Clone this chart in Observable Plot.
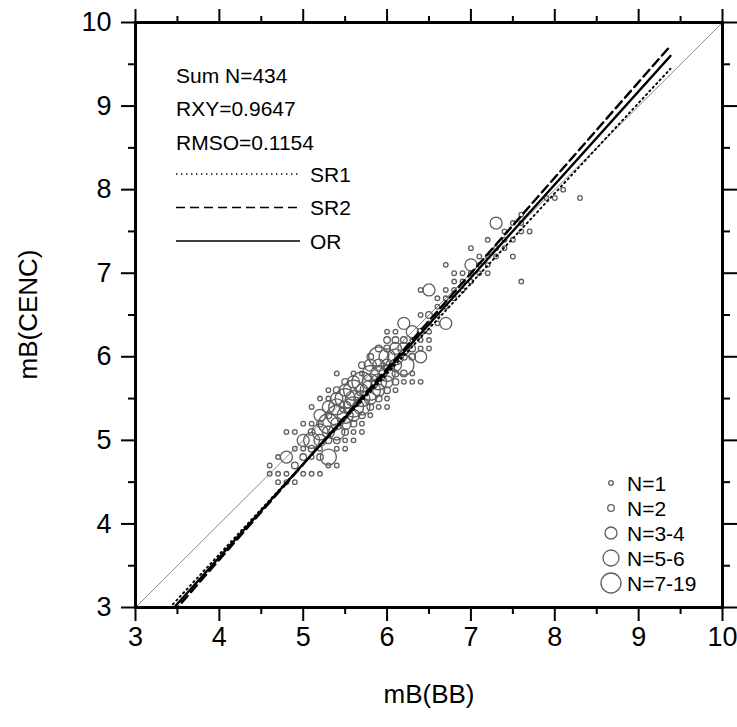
<!DOCTYPE html>
<html>
<head>
<meta charset="utf-8">
<script src="https://cdn.jsdelivr.net/npm/d3@7"></script>
<script src="https://cdn.jsdelivr.net/npm/@observablehq/plot@0.6"></script>
<style>
  html, body { margin: 0; padding: 0; background: #fff; }
</style>
</head>
<body>
<div id="chart"></div>
<script>
// ---------------- data ----------------
// magnitude pairs on a 0.1 grid: mB(BB), mB(CENC), number of events at that pair
const mbBB = [
  4.6,4.6,
  4.7,4.7,4.7,
  4.8,4.8,4.8,4.8,
  4.9,4.9,4.9,4.9,
  5.0,5.0,5.0,5.0,5.0,
  5.1,5.1,5.1,5.1,5.1,5.1,5.1,
  5.2,5.2,5.2,5.2,5.2,5.2,5.2,5.2,
  5.3,5.3,5.3,5.3,5.3,5.3,5.3,5.3,5.3,
  5.4,5.4,5.4,5.4,5.4,5.4,5.4,5.4,5.4,5.4,
  5.5,5.5,5.5,5.5,5.5,5.5,5.5,5.5,5.5,
  5.6,5.6,5.6,5.6,5.6,5.6,5.6,5.6,5.6,
  5.7,5.7,5.7,5.7,5.7,5.7,5.7,5.7,5.7,
  5.8,5.8,5.8,5.8,5.8,5.8,5.8,5.8,
  5.9,5.9,5.9,5.9,5.9,5.9,5.9,5.9,
  6.0,6.0,6.0,6.0,6.0,6.0,6.0,6.0,6.0,6.0,
  6.1,6.1,6.1,6.1,6.1,6.1,6.1,6.1,
  6.2,6.2,6.2,6.2,6.2,6.2,6.2,
  6.3,6.3,6.3,6.3,6.3,6.3,
  6.4,6.4,6.4,6.4,6.4,6.4,6.4,
  6.5,6.5,6.5,6.5,6.5,6.5,
  6.6,6.6,6.6,6.6,
  6.7,6.7,6.7,6.7,6.7,
  6.8,6.8,6.8,6.8,
  6.9,6.9,6.9,
  7.0,7.0,7.0,7.0,
  7.1,7.1,7.1,
  7.2,7.2,7.2,7.2,
  7.3,7.3,7.3,
  7.4,7.4,7.4,
  7.5,7.5,7.5,
  7.6,7.6,7.6,7.6,
  7.7,
  7.9,
  8.0,
  8.1,
  8.3
];
const mbCENC = [
  4.6,4.7,
  4.5,4.6,4.8,
  4.5,4.6,4.8,5.1,
  4.5,4.7,4.9,5.1,
  4.6,4.8,4.9,5.0,5.2,
  4.6,4.8,4.9,5.0,5.1,5.2,5.4,
  4.6,4.8,4.9,5.0,5.1,5.2,5.3,5.5,
  4.7,4.8,5.0,5.1,5.2,5.3,5.4,5.5,5.6,
  4.7,4.9,5.0,5.1,5.2,5.3,5.4,5.5,5.6,5.8,
  4.9,5.0,5.1,5.2,5.3,5.4,5.5,5.6,5.7,
  5.0,5.1,5.2,5.3,5.4,5.5,5.6,5.7,5.8,
  5.1,5.2,5.3,5.4,5.5,5.6,5.7,5.8,5.9,
  5.3,5.4,5.5,5.6,5.7,5.8,5.9,6.0,
  5.4,5.5,5.6,5.7,5.8,5.9,6.0,6.1,
  5.4,5.5,5.6,5.7,5.8,5.9,6.0,6.1,6.2,6.3,
  5.6,5.7,5.8,5.9,6.0,6.1,6.2,6.3,
  5.7,5.8,5.9,6.0,6.1,6.2,6.4,
  5.7,5.8,6.0,6.1,6.2,6.3,
  5.7,6.0,6.1,6.2,6.3,6.5,6.8,
  6.1,6.2,6.3,6.4,6.5,6.8,
  6.4,6.5,6.6,6.7,
  6.4,6.6,6.7,6.8,7.1,
  6.7,6.8,6.9,7.0,
  6.8,6.9,7.0,
  6.9,7.0,7.1,7.3,
  7.0,7.1,7.2,
  7.0,7.1,7.2,7.4,
  7.2,7.3,7.6,
  7.3,7.4,7.5,
  7.2,7.4,7.6,
  6.9,7.5,7.6,7.7,
  7.5,
  7.9,
  7.9,
  8.0,
  7.9
];
const nEvents = [
  1,1,
  1,1,1,
  1,1,3,1,
  1,2,1,1,
  1,2,1,4,1,
  1,1,2,6,2,1,1,
  1,2,1,3,5,2,4,1,
  1,6,2,3,8,2,3,1,1,
  1,1,2,5,3,10,5,3,2,1,
  1,1,2,4,6,4,12,3,2,
  1,1,2,3,8,5,14,3,1,
  1,1,2,5,6,4,8,1,2,
  1,2,3,9,6,5,3,2,
  1,2,3,6,5,3,11,2,
  1,1,2,3,5,3,6,2,2,1,
  1,2,2,3,5,3,2,1,
  1,2,9,2,3,2,4,
  1,1,2,2,1,4,
  1,3,1,1,2,1,1,
  1,1,1,1,2,3,
  1,1,1,1,
  3,1,1,1,1,
  1,1,1,1,
  1,1,1,
  1,1,3,1,
  1,1,1,
  1,1,1,1,
  1,1,3,
  1,1,1,
  1,1,1,
  1,1,1,1,
  1,
  1,
  1,
  1,
  1
];

// statistics text
const statLines = ["Sum N=434", "RXY=0.9647", "RMSO=0.1154"];

// fitted relations y = intercept + slope * x
const fitNames = ["SR1", "SR2", "OR"];
const fitIntercepts = [-0.683, -1.0, -0.858];
const fitSlopes = [1.08, 1.143, 1.115];
const fitXRange = [3.0, 9.38];

// bubble-size classes
const sizeLabels = ["N=1", "N=2", "N=3-4", "N=5-6", "N=7-19"];
const sizeRepresentative = [1, 2, 3, 5, 7];
const sizeBreaks = [2, 3, 5, 7];

// axis ticks
const majorTicks = [3, 4, 5, 6, 7, 8, 9, 10];
const minorTicks = [3.5, 4.5, 5.5, 6.5, 7.5, 8.5, 9.5];
const xTitle = "mB(BB)";
const yTitle = "mB(CENC)";

// ---------------- build tables ----------------
const points = mbBB.map((x, i) => ({x, y: mbCENC[i], n: nEvents[i]}))
  .sort((a, b) => b.n - a.n);
const fitLines = fitNames.flatMap((name, i) =>
  fitXRange.map(x => ({name, x, y: fitIntercepts[i] + fitSlopes[i] * x})));
const diag = [3, 10];

const FONT = "'Liberation Sans', Arial, Helvetica, sans-serif";
const dashFor = {SR1: "1.4,3.6", SR2: "9,5", OR: null};
const intFmt = d3.format("d");

function legends(index, scales, values, dims) {
  const g = d3.create("svg:g").attr("font-family", FONT).attr("fill", "black")
    .attr("text-anchor", "start");
  const left = dims.marginLeft, top = dims.marginTop;
  const right = dims.width - dims.marginRight, bottom = dims.height - dims.marginBottom;
  statLines.forEach((s, i) => {
    g.append("text").attr("x", left + 41).attr("y", top + 53 + i * 33.5)
      .attr("dy", "0.36em").attr("font-size", 21).attr("text-anchor", "start").text(s);
  });
  fitNames.forEach((name, i) => {
    const yy = top + 152 + i * 33.5;
    g.append("line").attr("x1", left + 41).attr("x2", left + 165)
      .attr("y1", yy).attr("y2", yy).attr("stroke", "black")
      .attr("stroke-width", 1.5)
      .attr("stroke-dasharray", dashFor[name]);
    g.append("text").attr("x", left + 175).attr("y", yy)
      .attr("dy", "0.36em").attr("font-size", 21).attr("text-anchor", "start").text(name);
  });
  sizeLabels.forEach((lab, i) => {
    const yy = bottom - 124 + i * 25;
    g.append("circle").attr("cx", right - 111).attr("cy", yy)
      .attr("r", scales.r(sizeRepresentative[i]))
      .attr("fill", "none").attr("stroke", "#5e5e5e").attr("stroke-width", 1.3);
    g.append("text").attr("x", right - 95).attr("y", yy)
      .attr("dy", "0.36em").attr("font-size", 21).attr("text-anchor", "start").text(lab);
  });
  // y-axis title, rotated, centred on the frame
  g.append("text")
    .attr("transform", `translate(${left - 107},${(top + bottom) / 2}) rotate(-90)`)
    .attr("text-anchor", "middle").attr("dy", "0.36em").attr("font-size", 26)
    .text(yTitle);
  return g.node();
}

const chart = Plot.plot({
  width: 737,
  height: 727,
  marginLeft: 135,
  marginRight: 15,
  marginTop: 22,
  marginBottom: 120,
  style: {fontFamily: FONT, background: "white", color: "black", overflow: "visible"},
  x: {domain: [3, 10], label: null},
  y: {domain: [3, 10], label: null},
  r: {type: "threshold", domain: sizeBreaks, range: [2.3, 3.3, 6, 8, 10]},
  marks: [
    Plot.line(diag, {x: d => d, y: d => d, stroke: "#8a8a8a", strokeWidth: 1}),
    Plot.dot(points, {x: "x", y: "y", r: "n", fill: "none", stroke: "#5e5e5e", strokeWidth: 1.3}),
    Plot.line(fitLines.filter(d => d.name === "SR1"), {x: "x", y: "y", stroke: "black", strokeWidth: 1.9, strokeDasharray: dashFor.SR1, clip: true}),
    Plot.line(fitLines.filter(d => d.name === "SR2"), {x: "x", y: "y", stroke: "black", strokeWidth: 2.4, strokeDasharray: dashFor.SR2, clip: true}),
    Plot.line(fitLines.filter(d => d.name === "OR"), {x: "x", y: "y", stroke: "black", strokeWidth: 2.3, clip: true}),
    Plot.frame({stroke: "black", strokeWidth: 3}),
    Plot.axisX({anchor: "bottom", ticks: majorTicks, tickSize: 14, tickPadding: 5, fontSize: 27, tickFormat: intFmt, strokeWidth: 2, label: null}),
    Plot.axisX({anchor: "bottom", ticks: minorTicks, tickSize: 7, tickFormat: () => "", strokeWidth: 2, label: null}),
    Plot.axisX({anchor: "top", ticks: majorTicks, tickSize: 14, tickFormat: () => "", strokeWidth: 2, label: null}),
    Plot.axisX({anchor: "top", ticks: minorTicks, tickSize: 7, tickFormat: () => "", strokeWidth: 2, label: null}),
    Plot.axisY({anchor: "left", ticks: majorTicks, tickSize: 14, tickPadding: 10, fontSize: 27, tickFormat: intFmt, strokeWidth: 2, label: null}),
    Plot.axisY({anchor: "left", ticks: minorTicks, tickSize: 7, tickFormat: () => "", strokeWidth: 2, label: null}),
    Plot.axisY({anchor: "right", ticks: majorTicks, tickSize: 14, tickFormat: () => "", strokeWidth: 2, label: null}),
    Plot.axisY({anchor: "right", ticks: minorTicks, tickSize: 7, tickFormat: () => "", strokeWidth: 2, label: null}),
    Plot.text([xTitle], {frameAnchor: "bottom", dy: 95, fontSize: 26, text: d => d}),
    legends
  ]
});
document.getElementById("chart").appendChild(chart);
</script>
</body>
</html>
